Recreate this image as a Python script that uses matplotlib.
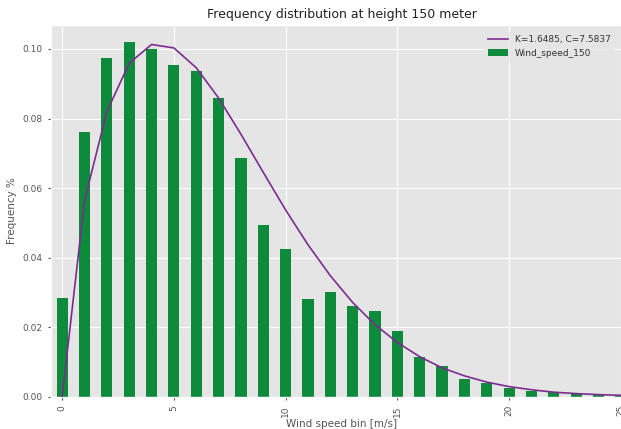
import matplotlib
matplotlib.use("Agg")
import matplotlib.pyplot as plt
import numpy as np

plt.style.use("ggplot")

# Wind speed bins [m/s]
bins = list(range(26))

# Observed frequency per bin at 150 m
freq_150 = [0.0285, 0.0762, 0.0975, 0.1020, 0.1001, 0.0954, 0.0936, 0.0858,
            0.0686, 0.0494, 0.0425, 0.0280, 0.0302, 0.0261, 0.0246, 0.0189,
            0.0115, 0.0089, 0.0051, 0.0040, 0.0026, 0.0016, 0.0014, 0.0008,
            0.0005, 0.0003]

# Fitted Weibull density at each bin
weibull_fit = [0.0, 0.0564, 0.0820, 0.0959, 0.1013, 0.1003, 0.0946, 0.0859,
               0.0755, 0.0645, 0.0537, 0.0437, 0.0348, 0.0271, 0.0207, 0.0156,
               0.0115, 0.0083, 0.0060, 0.0042, 0.0029, 0.0020, 0.0013, 0.0009,
               0.0006, 0.0004]

fit_label = "K=1.6485, C=7.5837"
bar_label = "Wind_speed_150"
xticks = [0, 5, 10, 15, 20, 25]
yticks = [0.00, 0.02, 0.04, 0.06, 0.08, 0.10]

W, H = 621, 429
fig = plt.figure(figsize=(W / 100, H / 100), dpi=100)
fig.patch.set_facecolor("white")
ax = fig.add_axes([51 / W, 32.3 / H, (632 - 51) / W, (396.7 - 25) / H])

ax.bar(bins, freq_150, width=0.5, color="#0e8a3c", label=bar_label, zorder=2)
ax.plot(bins, weibull_fit, color="#7d2b91", lw=1.2, label=fit_label, zorder=3)

ax.set_xlim(-0.5, 25.5)
ax.set_ylim(0, 0.1069)
ax.set_xticks(xticks)
ax.set_xticklabels([str(t) for t in xticks], rotation=90, fontsize=6.5, color="#555555")
ax.set_yticks(yticks)
ax.set_yticklabels([f"{t:.2f}" for t in yticks], fontsize=6.5, color="#555555")
ax.tick_params(length=2.5, color="#555555")

ax.set_xlabel("Wind speed bin [m/s]", fontsize=7.5, color="#555555", labelpad=2)
ax.set_ylabel("Frequency %", fontsize=7.5, color="#555555", labelpad=4)
ax.set_title("Frequency distribution at height 150 meter", fontsize=9,
             color="#222222", pad=5)

leg = ax.legend(loc="upper right", bbox_to_anchor=(619 / W, 1 - 27 / H),
                bbox_transform=fig.transFigure, fontsize=6.5, frameon=True,
                facecolor="#e5e5e5", edgecolor="#e5e5e5", handlelength=2.2)
for t in leg.get_texts():
    t.set_color("#333333")

fig.savefig("out.png", dpi=100)
